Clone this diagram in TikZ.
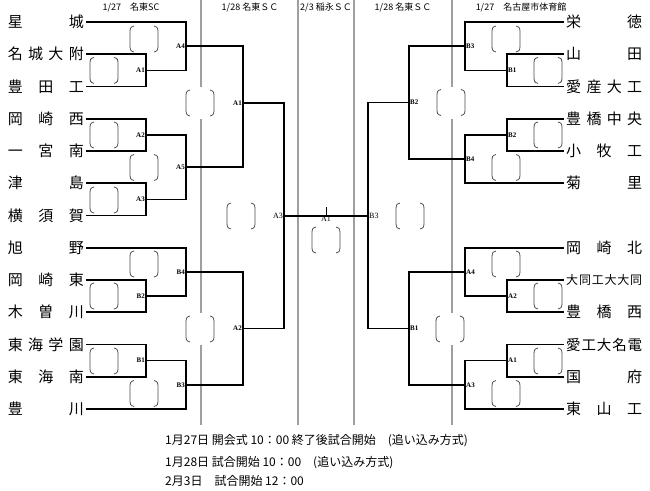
\documentclass[tikz,border=0pt]{standalone}
\usepackage{fontspec}
\newfontfamily\jp{Noto Sans CJK JP}
\newfontfamily\lab{Liberation Serif}
\begin{document}
\begin{tikzpicture}[x=1pt,y=-1pt,
  bk/.style={line width=1.6pt,black},
  gl/.style={line width=1.1pt,gray!75},
  parcol/.style={line width=0.8pt,black!70},
  lname/.style={anchor=east,inner xsep=2pt,inner ysep=0pt,font=\jp\fontsize{15}{16}\selectfont},
  rname/.style={anchor=west,inner xsep=2pt,inner ysep=0pt,font=\jp\fontsize{15}{16}\selectfont},
  lbl/.style={inner sep=1pt,font=\lab\bfseries\fontsize{7}{8}\selectfont},
  flbl/.style={inner sep=1pt,font=\lab\fontsize{8}{9}\selectfont},
  hdr/.style={inner sep=0pt,font=\jp\fontsize{9}{10}\selectfont},
  note/.style={anchor=west,inner sep=0pt,font=\jp\fontsize{12}{13}\selectfont},
  score/.pic={
    \draw[parcol] (-10,-13) .. controls (-14,-12) and (-14,-10) .. (-14,-8) -- (-14,8) .. controls (-14,10) and (-14,12) .. (-10,13);
    \draw[parcol] (10,-13) .. controls (14,-12) and (14,-10) .. (14,-8) -- (14,8) .. controls (14,10) and (14,12) .. (10,13);
  },
  scorecut/.pic={
    \fill[white] (-17,-16) rectangle (17,16);
    \draw[parcol] (-10,-13) .. controls (-14,-12) and (-14,-10) .. (-14,-8) -- (-14,8) .. controls (-14,10) and (-14,12) .. (-10,13);
    \draw[parcol] (10,-13) .. controls (14,-12) and (14,-10) .. (14,-8) -- (14,8) .. controls (14,10) and (14,12) .. (10,13);
  }]
\fill[white] (0,0) rectangle (650,490);
\useasboundingbox (0,0) rectangle (650,490);

% grey column lines
\coordinate (g1t) at (201,0);   \coordinate (g1b) at (201,425);
\coordinate (g2t) at (298,0);   \coordinate (g2b) at (298,425);
\coordinate (g3t) at (354,0);   \coordinate (g3b) at (354,425);
\coordinate (g4t) at (452,0);   \coordinate (g4b) at (452,425);
\draw[gl] (g1t) -- (g1b);
\draw[gl] (g2t) -- (g2b);
\draw[gl] (g3t) -- (g3b);
\draw[gl] (g4t) -- (g4b);

% headers
\node[hdr] (h1) at (131,8) {1/27　名東SC};
\node[hdr] (h2) at (250,8) {1/28 名東ＳＣ};
\node[hdr] (h3) at (326,8) {2/3 稲永ＳＣ};
\node[hdr] (h4) at (403,8) {1/28 名東ＳＣ};
\node[hdr] (h5) at (521,8) {1/27　名古屋市体育館};

% left team names
\node[lname] (L0)  at (86,22)     {\makebox[76pt]{星\hfill 城}};
\node[lname] (L1)  at (86,54.25)  {\makebox[76pt]{名\hfill 城\hfill 大\hfill 附}};
\node[lname] (L2)  at (86,86.5)   {\makebox[76pt]{豊\hfill 田\hfill 工}};
\node[lname] (L3)  at (86,118.75) {\makebox[76pt]{岡\hfill 崎\hfill 西}};
\node[lname] (L4)  at (86,151)    {\makebox[76pt]{一\hfill 宮\hfill 南}};
\node[lname] (L5)  at (86,183.25) {\makebox[76pt]{津\hfill 島}};
\node[lname] (L6)  at (86,215.5)  {\makebox[76pt]{横\hfill 須\hfill 賀}};
\node[lname] (L7)  at (86,247.75) {\makebox[76pt]{旭\hfill 野}};
\node[lname] (L8)  at (86,280)    {\makebox[76pt]{岡\hfill 崎\hfill 東}};
\node[lname] (L9)  at (86,312.25) {\makebox[76pt]{木\hfill 曽\hfill 川}};
\node[lname] (L10) at (86,344.5)  {\makebox[76pt]{東\hfill 海\hfill 学\hfill 園}};
\node[lname] (L11) at (86,376.75) {\makebox[76pt]{東\hfill 海\hfill 南}};
\node[lname] (L12) at (86,409)    {\makebox[76pt]{豊\hfill 川}};

% right team names
\node[rname] (R0)  at (564,22)     {\makebox[76pt]{栄\hfill 徳}};
\node[rname] (R1)  at (564,54.25)  {\makebox[76pt]{山\hfill 田}};
\node[rname] (R2)  at (564,86.5)   {\makebox[76pt]{愛\hfill 産\hfill 大\hfill 工}};
\node[rname] (R3)  at (564,118.75) {\makebox[76pt]{豊\hfill 橋\hfill 中\hfill 央}};
\node[rname] (R4)  at (564,151)    {\makebox[76pt]{小\hfill 牧\hfill 工}};
\node[rname] (R5)  at (564,183.25) {\makebox[76pt]{菊\hfill 里}};
\node[rname] (R7)  at (564,247.75) {\makebox[76pt]{岡\hfill 崎\hfill 北}};
\node[rname,font=\jp\fontsize{12}{13}\selectfont] (R8) at (564,280) {\makebox[76pt]{大\hfill 同\hfill 工\hfill 大\hfill 大\hfill 同}};
\node[rname] (R9)  at (564,312.25) {\makebox[76pt]{豊\hfill 橋\hfill 西}};
\node[rname,font=\jp\fontsize{14.5}{15}\selectfont] (R10) at (564,344.5) {\makebox[76pt]{愛\hfill 工\hfill 大\hfill 名\hfill 電}};
\node[rname] (R11) at (564,376.75) {\makebox[76pt]{国\hfill 府}};
\node[rname] (R12) at (564,409)    {\makebox[76pt]{東\hfill 山\hfill 工}};

% score brackets
\pic at (144,39)  {score};
\pic at (104,70.4) {score};
\pic at (104,135) {score};
\pic at (144,167.5) {score};
\pic at (104,200) {score};
\pic at (144,264) {score};
\pic at (104,296) {score};
\pic at (104,361) {score};
\pic at (144,393.5) {score};
\pic at (200,103) {scorecut};
\pic at (200,329) {scorecut};
\pic at (241,216) {score};
\pic at (326,240) {score};
\pic at (410,216) {score};
\pic at (451,102.5) {scorecut};
\pic at (450,329) {scorecut};
\pic at (506,39)  {score};
\pic at (548,70.4) {score};
\pic at (548,135) {score};
\pic at (506,167.5) {score};
\pic at (506,264) {score};
\pic at (548,296) {score};
\pic at (548,361) {score};
\pic at (506,393.5) {score};

% match points, left
\coordinate (lA1) at (146,70.4);
\coordinate (lA4) at (186,46.2);
\coordinate (lA2) at (146,134.9);
\coordinate (lA3) at (146,199.4);
\coordinate (lA5) at (186,167.1);
\coordinate (lSA1) at (243,103);
\coordinate (lB2) at (146,296.1);
\coordinate (lB4) at (186,271.9);
\coordinate (lB1) at (146,360.6);
\coordinate (lB3) at (186,384.8);
\coordinate (lSA2) at (243,328.4);
\coordinate (fL) at (284,215.7);
% match points, right
\coordinate (rB1) at (507,70.4);
\coordinate (rB3) at (465,46.2);
\coordinate (rB2) at (507,134.9);
\coordinate (rB4) at (465,159.1);
\coordinate (rSB2) at (409,102.6);
\coordinate (rA2) at (507,296.1);
\coordinate (rA4) at (465,271.9);
\coordinate (rA1) at (507,360.6);
\coordinate (rA3) at (465,384.8);
\coordinate (rSB1) at (409,328.4);
\coordinate (fR) at (368,215.7);
\coordinate (fC) at (326,215.7);
\coordinate (fT) at (326,207);

% left bracket lines
\draw[bk] (L1.east) -| (lA1) |- (L2.east);
\draw[bk] (L0.east) -| (lA4) |- (lA1);
\draw[bk] (L3.east) -| (lA2) |- (L4.east);
\draw[bk] (L5.east) -| (lA3) |- (L6.east);
\draw[bk] (lA2) -| (lA5) |- (lA3);
\draw[bk] (lA4) -| (lSA1) |- (lA5);
\draw[bk] (L8.east) -| (lB2) |- (L9.east);
\draw[bk] (L7.east) -| (lB4) |- (lB2);
\draw[bk] (L10.east) -| (lB1) |- (L11.east);
\draw[bk] (lB1) -| (lB3) |- (L12.east);
\draw[bk] (lB4) -| (lSA2) |- (lB3);
\draw[bk] (lSA1) -| (fL) |- (lSA2);
% right bracket lines
\draw[bk] (R1.west) -| (rB1) |- (R2.west);
\draw[bk] (R0.west) -| (rB3) |- (rB1);
\draw[bk] (R3.west) -| (rB2) |- (R4.west);
\draw[bk] (rB2) -| (rB4) |- (R5.west);
\draw[bk] (rB3) -| (rSB2) |- (rB4);
\draw[bk] (R8.west) -| (rA2) |- (R9.west);
\draw[bk] (R7.west) -| (rA4) |- (rA2);
\draw[bk] (R10.west) -| (rA1) |- (R11.west);
\draw[bk] (rA1) -| (rA3) |- (R12.west);
\draw[bk] (rA4) -| (rSB1) |- (rA3);
\draw[bk] (rSB2) -| (fR) |- (rSB1);
% final
\draw[bk] (fL) -- (fR);
\draw[line width=0.7pt] (fC) -- (fT);

% match labels, left
\node[lbl,anchor=east] (tlA1) at (lA1) {A1};
\node[lbl,anchor=east] (tlA4) at (lA4) {A4};
\node[lbl,anchor=east] (tlA2) at (lA2) {A2};
\node[lbl,anchor=east] (tlA3) at (lA3) {A3};
\node[lbl,anchor=east] (tlA5) at (lA5) {A5};
\node[lbl,anchor=east] (tlSA1) at (lSA1) {A1};
\node[lbl,anchor=east] (tlB2) at (lB2) {B2};
\node[lbl,anchor=east] (tlB4) at (lB4) {B4};
\node[lbl,anchor=east] (tlB1) at (lB1) {B1};
\node[lbl,anchor=east] (tlB3) at (lB3) {B3};
\node[lbl,anchor=east] (tlSA2) at (lSA2) {A2};
\node[flbl,anchor=east] (tfL) at (fL) {A3};
% match labels, right
\node[lbl,anchor=west] (trB1) at (rB1) {B1};
\node[lbl,anchor=west] (trB3) at (rB3) {B3};
\node[lbl,anchor=west] (trB2) at (rB2) {B2};
\node[lbl,anchor=west] (trB4) at (rB4) {B4};
\node[lbl,anchor=west] (trSB2) at (rSB2) {B2};
\node[lbl,anchor=west] (trA2) at (rA2) {A2};
\node[lbl,anchor=west] (trA4) at (rA4) {A4};
\node[lbl,anchor=west] (trA1) at (rA1) {A1};
\node[lbl,anchor=west] (trA3) at (rA3) {A3};
\node[lbl,anchor=west] (trSB1) at (rSB1) {B1};
\node[flbl,anchor=west] (tfR) at (fR) {B3};
\node[flbl,anchor=north,inner sep=0.5pt] (tfC) at (fC) {A1};

% notes
\node[note] (n1) at (165,441) {1月27日 開会式 10：00 終了後試合開始　(追い込み方式)};
\node[note] (n2) at (165,463) {1月28日 試合開始 10：00　(追い込み方式)};
\node[note] (n3) at (165,481) {2月3日　試合開始 12：00};
\end{tikzpicture}
\end{document}
